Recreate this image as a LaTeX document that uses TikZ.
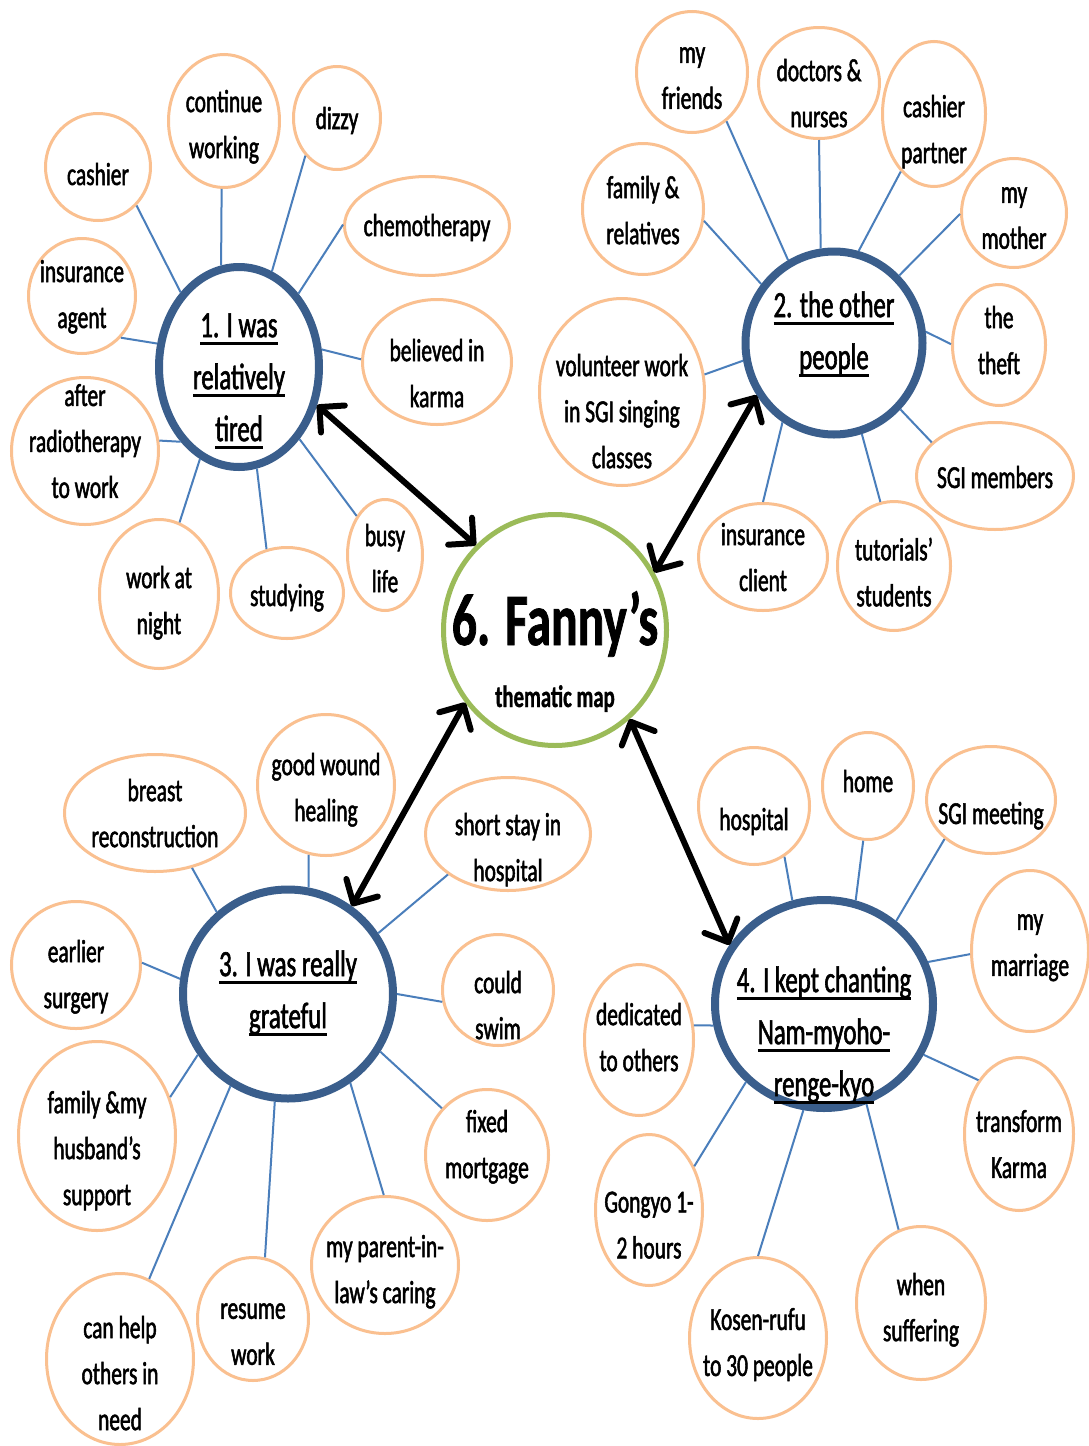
\documentclass[tikz,border=0pt]{standalone}
\usepackage{fontspec}
\setmainfont{Carlito}[FakeStretch=0.67]
\newfontfamily\bubblefont{Carlito}[FakeStretch=0.67, FakeBold=1.6]
\newfontfamily\mapfont{Carlito Bold}[FakeStretch=0.67, FakeBold=1.0]
\usetikzlibrary{shapes.geometric,arrows.meta,calc}

\definecolor{hubblue}{HTML}{3A5E8C}
\definecolor{peach}{HTML}{FAC090}
\definecolor{linkblue}{HTML}{4A7EBB}
\definecolor{mapgreen}{HTML}{9BBB59}

% underlined hub heading line
\newcommand\hul[1]{\setbox0\hbox{#1}\rlap{\rule[-7.5pt]{\wd0}{2.5pt}}\box0}
\newcommand\lstrut{\rule[-8pt]{0pt}{38pt}}
\newcommand\hstrut{\rule[-6pt]{0pt}{41pt}}

% bubble: name, centre, width, height, text offset, text
\newcommand\leafnode[6]{%
  \node[leaf, minimum width=#3pt, minimum height=#4pt] (#1) at (#2) {};
  \node[leaftext] (#1-t) at ($(#1)+(0,#5)$) {#6};
}
\newcommand\hubnode[6]{%
  \node[hub, minimum width=#3pt, minimum height=#4pt] (#1) at (#2) {};
  \node[hubtext] (#1-t) at ($(#1)+(0,#5)$) {#6};
}

\tikzset{
  leaf/.style={ellipse, draw=peach, line width=3pt, fill=white, inner sep=0pt},
  leaftext/.style={align=center, inner sep=0pt, font=\bubblefont\fontsize{32}{46}\selectfont,
    execute at begin node=\lstrut, execute at end node=\lstrut},
  hub/.style={ellipse, draw=hubblue, line width=8pt, fill=white, inner sep=0pt},
  hubtext/.style={align=center, inner sep=0pt, font=\bubblefont\fontsize{37}{52}\selectfont,
    execute at begin node=\hstrut, execute at end node=\hstrut},
  conn/.style={draw=linkblue, line width=2pt},
  arr/.style={draw=black, line width=6pt,
    {Straight Barb[length=18pt,width=36pt,round]}-{Straight Barb[length=18pt,width=36pt,round]}},
}

\begin{document}
\begin{tikzpicture}[x=1pt,y=-1pt]
\fill[white] (0,0) rectangle (1089,1446);
\useasboundingbox (0,0) rectangle (1089,1446);

% centre
\node[ellipse, draw=mapgreen, line width=5pt, fill=white, inner sep=0pt,
      minimum width=223pt, minimum height=231pt] (map) at (555,630) {};
\node[inner sep=0pt, anchor=base, font=\mapfont\fontsize{74}{74}\selectfont] (map-t) at (555,645) {6. Fanny’s};
\node[inner sep=0pt, anchor=base, font=\mapfont\fontsize{31}{31}\selectfont] (map-s) at (555,707) {thematic map};

% hubs
\hubnode{h1}{239,367}{160}{200}{14}{\hul{1. I was}\\\hul{relatively}\\\hul{tired}}
\hubnode{h2}{834,343}{177}{183}{-9}{\hul{2. the other}\\\hul{people}}
\hubnode{h3}{288,994}{210}{209}{-1}{\hul{3. I was really}\\\hul{grateful}}
\hubnode{h4}{824,1004}{218}{208}{31}{\hul{4. I kept chanting}\\\hul{Nam-myoho-}\\\hul{renge-kyo}}

% hub 1 bubbles
\leafnode{cashierA}{98,167}{105}{107}{7}{cashier}
\leafnode{continue}{224,121}{111}{133}{7}{continue\\working}
\leafnode{dizzy}{337,118}{87}{103}{0}{dizzy}
\leafnode{chemo}{427,226}{165}{99}{-1}{chemotherapy}
\leafnode{karma}{437,362}{149}{125}{15}{believed in\\karma}
\leafnode{busy}{385,555}{75}{111}{7}{busy\\life}
\leafnode{studying}{287,593}{113}{91}{2}{studying}
\leafnode{night}{159,594}{119}{149}{10}{work at\\night}
\leafnode{radio}{85,451}{147}{147}{-6}{after\\radiotherapy\\to work}
\leafnode{agent}{82,296}{107}{115}{2}{insurance\\agent}

% hub 2 bubbles
\leafnode{friends}{692,72}{111}{121}{10}{my\\friends}
\leafnode{doctors}{819,83}{121}{111}{14}{doctors \&\\nurses}
\leafnode{partner}{934,114}{103}{145}{19}{cashier\\partner}
\leafnode{mother}{1014,213}{105}{109}{9}{my\\mother}
\leafnode{theft}{999,345}{93}{121}{-1}{the\\theft}
\leafnode{sgimem}{995,476}{157}{107}{1}{SGI members}
\leafnode{tutorials}{894,566}{113}{129}{10}{tutorials’\\students}
\leafnode{client}{763,557}{129}{107}{4}{insurance\\client}
\leafnode{volunteer}{622,392}{165}{187}{23}{volunteer work\\in SGI singing\\classes}
\leafnode{relatives}{643,209}{121}{131}{5}{family \&\\relatives}

% hub 3 bubbles
\leafnode{breast}{155,813}{181}{117}{4}{breast\\reconstruction}
\leafnode{wound}{326,785}{137}{141}{6}{good wound\\healing}
\leafnode{shortstay}{508,834}{165}{113}{17}{short stay in\\hospital}
\leafnode{swim}{498,990}{111}{111}{19}{could\\swim}
\leafnode{mortgage}{487,1155}{123}{131}{-7}{fixed\\mortgage}
\leafnode{inlaw}{385,1265}{147}{137}{8}{my parent-in-\\law’s caring}
\leafnode{resume}{253,1319}{111}{123}{19}{resume\\work}
\leafnode{helpothers}{120,1359}{147}{171}{18}{can help\\others in\\need}
\leafnode{husband}{97,1136}{157}{189}{16}{family \&my\\husband’s\\support}
\leafnode{surgery}{76,965}{129}{127}{13}{earlier\\surgery}

% hub 4 bubbles
\leafnode{hospital}{754,806}{111}{117}{13}{hospital}
\leafnode{home}{868,786}{91}{107}{-5}{home}
\leafnode{sgimeet}{991,800}{129}{107}{13}{SGI meeting}
\leafnode{marriage}{1030,951}{117}{161}{-2}{my\\marriage}
\leafnode{karmaT}{1019,1134}{109}{153}{14}{transform\\Karma}
\leafnode{suffering}{921,1303}{129}{153}{8}{when\\suffering}
\leafnode{kosen}{758,1338}{137}{161}{8}{Kosen-rufu\\to 30 people}
\leafnode{gongyo}{649,1210}{107}{151}{19}{Gongyo 1-\\2 hours}
\leafnode{dedicated}{639,1040}{109}{151}{1}{dedicated\\to others}

% spokes of hub 1
\draw[conn] (h1.128) -- (cashierA.-45);
\draw[conn] (h1.100) -- (continue.-92);
\draw[conn] (h1.71) -- (dizzy.-130);
\draw[conn] (h1.51) -- (chemo.179);
\draw[conn] (h1.12) -- (karma.178);
\draw[conn] (h1.-50) -- (busy.126);
\draw[conn] (h1.-80) -- (studying.115);
\draw[conn] (h1.-113) -- (night.74);
\draw[conn] (h1.-128) -- (radio.8);
\draw[conn] (h1.164) -- (agent.-47);

% spokes of hub 2
\draw[conn] (h2.119) -- (friends.-55);
\draw[conn] (h2.98) -- (doctors.-90);
\draw[conn] (h2.75) -- (partner.-120);
\draw[conn] (h2.46) -- (mother.-179);
\draw[conn] (h2.7) -- (theft.179);
\draw[conn] (h2.-45) -- (sgimem.152);
\draw[conn] (h2.-73) -- (tutorials.102);
\draw[conn] (h2.-123) -- (client.90);
\draw[conn] (h2.-169) -- (volunteer.12);
\draw[conn] (h2.141) -- (relatives.-11);

% spokes of hub 3
\draw[conn] (h3.131) -- (breast.-56);
\draw[conn] (h3.79) -- (wound.-104);
\draw[conn] (h3.34) -- (shortstay.-146);
\draw[conn] (h3.0) -- (swim.-168);
\draw[conn] (h3.-32) -- (mortgage.134);
\draw[conn] (h3.-55) -- (inlaw.91);
\draw[conn] (h3.-97) -- (resume.79);
\draw[conn] (h3.-122) -- (helpothers.70);
\draw[conn] (h3.-146) -- (husband.28);
\draw[conn] (h3.172) -- (surgery.2);

% spokes of hub 4
\draw[conn] (h4.107) -- (hospital.-59);
\draw[conn] (h4.73) -- (home.-95);
\draw[conn] (h4.49) -- (sgimeet.-140);
\draw[conn] (h4.22) -- (marriage.-177);
\draw[conn] (h4.-27) -- (karmaT.127);
\draw[conn] (h4.-67) -- (suffering.107);
\draw[conn] (h4.-101) -- (kosen.90);
\draw[conn] (h4.-135) -- (gongyo.44);
\draw[conn] (h4.-169) -- (dedicated.15);

% links between the centre and the hubs
\draw[arr] (h1.-26) -- (map.133);
\draw[arr] (h2.-146) -- (map.30);
\draw[arr] (map.-141) -- (h3.54);
\draw[arr] (map.-50) -- (h4.148);
\end{tikzpicture}
\end{document}
